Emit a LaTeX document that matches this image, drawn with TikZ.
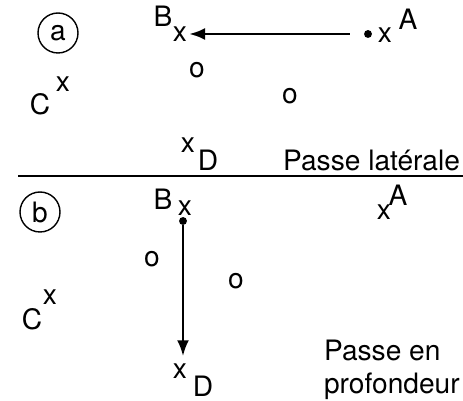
\documentclass[tikz,border=0pt]{standalone}
\usepackage{fontspec}
\setmainfont{TeX Gyre Heros}
\usetikzlibrary{arrows.meta,positioning}

\begin{document}
\begin{tikzpicture}[x=0.02cm,y=-0.02cm]
        \tikzstyle{every node}=[font=\fontsize{16}{19}\selectfont,inner sep=1pt]
        \tikzstyle{panel}=[draw,circle,line width=0.8pt,minimum size=0.8cm,inner sep=0pt]
        \tikzstyle{spot}=[fill,circle,inner sep=0pt,minimum size=4.5pt]
        \tikzstyle{pass}=[-{Latex[length=3.2mm,width=2.4mm]},line width=1.5pt]
        \useasboundingbox (0,0) rectangle (463,401);

        %%% Passe laterale
        \node[panel] (pa) at (58,33) {a};
        \node (aBl) at (163,16) {B};
        \node (aBx) at (180,34) {x};
        \node[spot] (aAdot) at (368,34) {};
        \node (aAx) at (385,35) {x};
        \node (aAl) at (408,19) {A};
        \node (ao1) at (197,70) {o};
        \node (ao2) at (290,96) {o};
        \node (aCl) at (40,104) {C};
        \node (aCx) at (63,84) {x};
        \node (aDx) at (188,145) {x};
        \node (aDl) at (208,160) {D};
        \node[anchor=east] (alat) at (462,160) {Passe latérale};

        \draw[pass] (aAdot) edge[shorten <=8pt] (aBx);

        %%% separation
        \coordinate (sepl) at (18,176);
        \coordinate (sepr) at (463,176);
        \draw[line width=0.8pt] (sepl) -- (sepr);

        %%% Passe en profondeur
        \node[panel] (pb) at (40,212) {b};
        \node (bBl) at (163,199) {B};
        \node (bBx) at (185,208) {x};
        \node[spot] (bBdot) at (183,221) {};
        \node (bAx) at (384,212) {x};
        \node (bAl) at (398,195) {A};
        \node (bo1) at (152,259) {o};
        \node (bo2) at (236,281) {o};
        \node (bCl) at (32,319) {C};
        \node (bCx) at (50,297) {x};
        \node (bDx) at (180,371) {x};
        \node (bDl) at (203,386) {D};
        \node[anchor=north west,align=left] (bprof) at (322,338) {Passe en\\profondeur};

        \draw[pass] (bBdot) edge[shorten >=3pt] (bBdot |- bDx.north);
\end{tikzpicture}
\end{document}
